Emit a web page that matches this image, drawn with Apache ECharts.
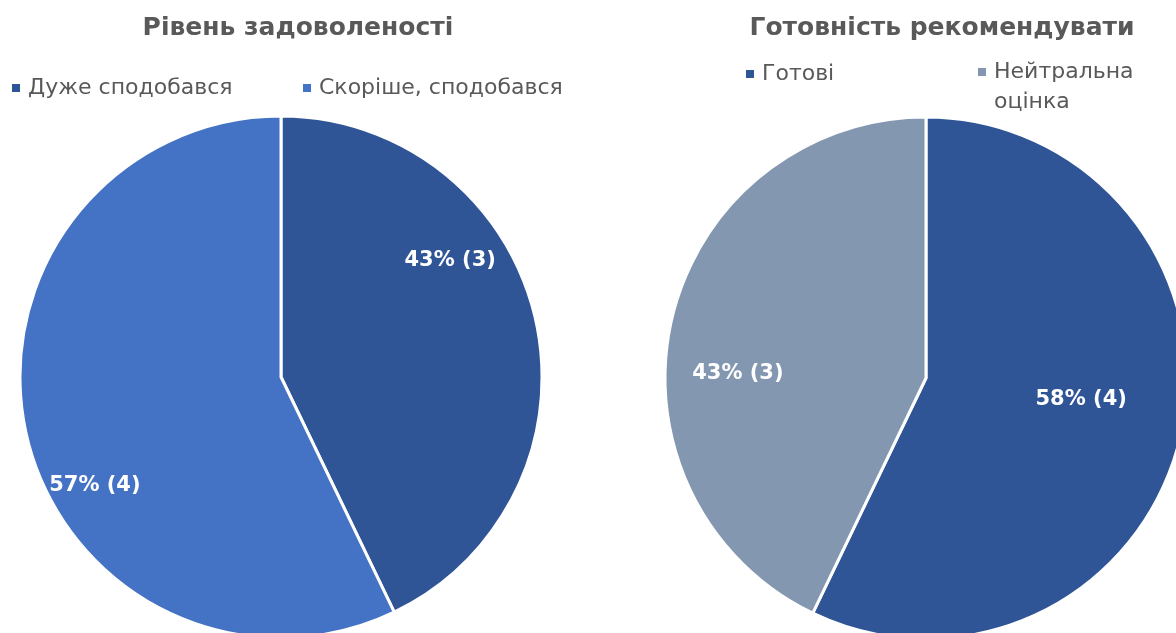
<!DOCTYPE html>
<html>
<head>
<meta charset="utf-8">
<script src="https://cdn.jsdelivr.net/npm/echarts@6/dist/echarts.min.js"></script>
<style>
  html, body { margin: 0; padding: 0; background: #fff; }
  #main { width: 1176px; height: 633px; }
</style>
</head>
<body>
<div id="main"></div>
<script>
// дані з картинки
const satisfactionNames = ["Дуже сподобався", "Скоріше, сподобався"];
const satisfactionValues = [3, 4];
const satisfactionLabels = ["43% (3)", "57% (4)"];

const recommendNames = ["Готові", "Нейтральна оцінка"];
const recommendValues = [4, 3];
const recommendLabels = ["58% (4)", "43% (3)"];

const FONT = "DejaVu Sans";
const TEXT = "#595959";

// зсув підписів від позиції 'inside' (як у Excel bestFit)
const labelShift = [
  [[39, -87], [-56, 79]],
  [[25, -8], [-58, 25]]
];

let myChart = echarts.init(document.getElementById("main"));

function legendItem(name, left, top, extra) {
  return Object.assign({
    data: [name],
    left: left,
    top: top,
    orient: "horizontal",
    icon: "rect",
    itemWidth: 8,
    itemHeight: 8,
    itemGap: 6,
    itemStyle: { borderWidth: 0 },
    textStyle: { fontFamily: FONT, fontSize: 22, color: TEXT, padding: [0, 0, 0, 3] }
  }, extra || {});
}

myChart.setOption({
  color: ["#2F5597", "#4472C4", "#8497B0"],
  animation: false,
  title: [
    {
      text: "Рівень задоволеності",
      left: 293, top: 11, textAlign: "center",
      textStyle: { fontFamily: FONT, fontSize: 25, fontWeight: "bold", color: TEXT }
    },
    {
      text: "Готовність рекомендувати",
      left: 937, top: 11, textAlign: "center",
      textStyle: { fontFamily: FONT, fontSize: 25, fontWeight: "bold", color: TEXT }
    }
  ],
  legend: [
    legendItem(satisfactionNames[0], 7, 72),
    legendItem(satisfactionNames[1], 298, 72),
    legendItem(recommendNames[0], 741, 58),
    legendItem(recommendNames[1], 973, 22, {
      // перший рядок порожній, щоб маркер став навпроти "Нейтральна"
      formatter: function (n) { return " \n" + n.replace(" ", "\n"); },
      textStyle: { fontFamily: FONT, fontSize: 22, color: TEXT, lineHeight: 30, padding: [0, 0, 0, 3] }
    })
  ],
  series: [
    {
      type: "pie",
      center: [281, 377],
      radius: [0, 261],
      startAngle: 90,
      clockwise: true,
      itemStyle: { borderColor: "#fff", borderWidth: 3 },
      label: {
        position: "inside",
        color: "#fff",
        fontFamily: FONT,
        fontSize: 21,
        fontWeight: "bold",
        formatter: function (p) { return satisfactionLabels[p.dataIndex]; }
      },
      labelLine: { show: false },
      labelLayout: function (p) {
        const s = labelShift[0][p.dataIndex];
        return { dx: s[0], dy: s[1] };
      },
      emphasis: { disabled: true },
      data: satisfactionNames.map(function (n, i) {
        return { name: n, value: satisfactionValues[i], itemStyle: { color: ["#2F5597", "#4472C4"][i] } };
      })
    },
    {
      type: "pie",
      center: [926, 378],
      radius: [0, 261],
      startAngle: 90,
      clockwise: true,
      itemStyle: { borderColor: "#fff", borderWidth: 3 },
      label: {
        position: "inside",
        color: "#fff",
        fontFamily: FONT,
        fontSize: 21,
        fontWeight: "bold",
        formatter: function (p) { return recommendLabels[p.dataIndex]; }
      },
      labelLine: { show: false },
      labelLayout: function (p) {
        const s = labelShift[1][p.dataIndex];
        return { dx: s[0], dy: s[1] };
      },
      emphasis: { disabled: true },
      data: recommendNames.map(function (n, i) {
        return { name: n, value: recommendValues[i], itemStyle: { color: ["#2F5597", "#8497B0"][i] } };
      })
    }
  ]
});
</script>
</body>
</html>
